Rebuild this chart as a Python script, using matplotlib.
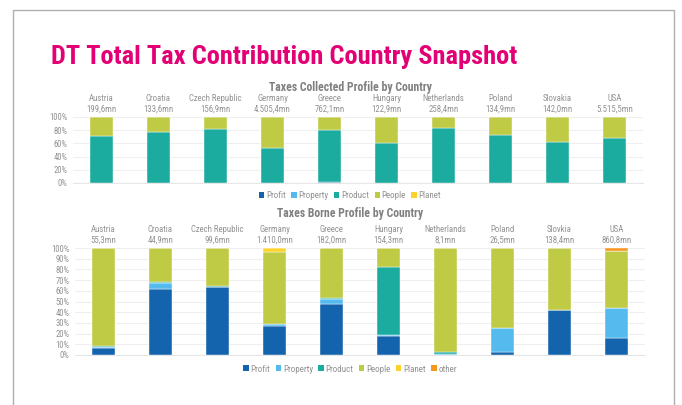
import matplotlib
matplotlib.use('Agg')
import matplotlib.pyplot as plt
from matplotlib import font_manager
from matplotlib.patches import Patch, Rectangle
import numpy as np

# data (shares in %)
countries_top = ['Austria', 'Croatia', 'Czech Republic', 'Germany', 'Greece',
                 'Hungary', 'Netherlands', 'Poland', 'Slovakia', 'USA']
totals_top = ['199,6mn', '133,6mn', '156,9mn', '4.505,4mn', '762,1mn',
              '122,9mn', '258,4mn', '134,9mn', '142,0mn', '5.515,5mn']
collected_profit = [0.0, 0.0, 0.0, 0.0, 1.0, 0.0, 0.0, 0.0, 0.0, 0.0]
collected_property = [0.5, 0.0, 0.0, 0.0, 0.0, 0.0, 0.0, 0.0, 0.0, 0.0]
collected_product = [71.2, 76.7, 81.5, 53.5, 78.7, 61.0, 82.7, 72.5, 62.6, 67.6]
collected_people = [28.3, 23.3, 18.5, 46.5, 20.3, 39.0, 17.3, 27.5, 37.4, 32.4]
collected_planet = [0.0, 0.0, 0.0, 0.0, 0.0, 0.0, 0.0, 0.0, 0.0, 0.0]

countries_bottom = ['Austria', 'Croatia', 'Czech Republic', 'Germany', 'Greece',
                    'Hungary', 'Netherlands', 'Poland', 'Slovkia', 'USA']
totals_bottom = ['55,3mn', '44,9mn', '99,6mn', '1.410,0mn', '182,0mn',
                 '154,3mn', '8,1mn', '26,5mn', '138,4mn', '860,8mn']
borne_profit = [6.5, 62.0, 64.0, 27.4, 48.0, 17.4, 0.3, 2.8, 42.0, 15.9]
borne_property = [1.0, 5.6, 0.0, 1.9, 4.6, 1.0, 1.0, 22.7, 0.0, 27.7]
borne_product = [0.6, 0.9, 0.6, 0.0, 1.0, 63.8, 1.2, 0.0, 0.3, 0.0]
borne_people = [91.9, 31.5, 35.4, 67.0, 46.4, 17.8, 97.5, 74.5, 57.7, 53.3]
borne_planet = [0.0, 0.0, 0.0, 3.7, 0.0, 0.0, 0.0, 0.0, 0.0, 0.0]
borne_other = [0.0, 0.0, 0.0, 0.0, 0.0, 0.0, 0.0, 0.0, 0.0, 3.1]

colors = {'Profit': '#1464ad', 'Property': '#55bbef', 'Product': '#1cab9f',
          'People': '#bfca45', 'Planet': '#fdd22a', 'other': '#f7951e'}
GRAY = '#929292'

# pick a narrow font if there is one (the original uses a condensed face)
installed = set(f.name for f in font_manager.fontManager.ttflist)
narrow = [f for f in ['Liberation Sans Narrow', 'Roboto Condensed', 'Open Sans Condensed'] if f in installed]
fam = narrow[:1] + ['Roboto', 'DejaVu Sans']
plt.rcParams['font.family'] = fam


def stacked(ax, series, names, labels, step):
	x = np.arange(len(labels))
	bottom = np.zeros(len(labels))
	for vals, name in zip(series, names):
		ax.bar(x, vals, 0.4, bottom=bottom, color=colors[name], edgecolor='white', linewidth=0.3, zorder=3)
		bottom += np.array(vals)
	ax.set_xlim(-0.5, len(labels) - 0.5)
	ax.set_ylim(0, 100)
	ax.set_yticks(np.arange(0, 101, step))
	ax.set_yticklabels(['%d%%' % v for v in np.arange(0, 101, step)])
	ax.yaxis.grid(True, color='#efefef', linewidth=0.8, zorder=0)
	ax.xaxis.tick_top()
	ax.set_xticks(x)
	ax.set_xticklabels(labels, linespacing=1.15)
	ax.tick_params(axis='x', length=0, pad=2.5, labelsize=6.3, labelcolor=GRAY)
	ax.tick_params(axis='y', length=0, pad=4, labelsize=6.2, labelcolor=GRAY)
	for s in ['top', 'left', 'right']:
		ax.spines[s].set_visible(False)
	ax.spines['bottom'].set_color('#e6e6e6')


fig = plt.figure(figsize=(6.82, 4.05), dpi=100)

# page frame
fig.patches.append(Rectangle((13 / 682, -0.1), 661 / 682, 1.1 - 10 / 405, transform=fig.transFigure,
                             fill=False, edgecolor='#b0b0b0', linewidth=1.0))

fig.text(51 / 682, 1 - 64 / 405, 'DT Total Tax Contribution Country Snapshot', color='#e20074',
         fontsize=19, fontweight='bold', va='baseline', ha='left')

ax1 = fig.add_axes([73 / 682, 1 - 183 / 405, 570 / 682, 66 / 405])
stacked(ax1, [collected_profit, collected_property, collected_product, collected_people, collected_planet],
        ['Profit', 'Property', 'Product', 'People', 'Planet'],
        [c + '\n' + t for c, t in zip(countries_top, totals_top)], 20)

ax2 = fig.add_axes([75 / 682, 1 - 355 / 405, 570 / 682, 107 / 405])
stacked(ax2, [borne_profit, borne_property, borne_product, borne_people, borne_planet, borne_other],
        ['Profit', 'Property', 'Product', 'People', 'Planet', 'other'],
        [c + '\n' + t for c, t in zip(countries_bottom, totals_bottom)], 10)

fig.text(350 / 682, 1 - 87 / 405, 'Taxes Collected Profile by Country', color='#808080',
         fontsize=8.5, fontweight='bold', ha='center', va='center')
fig.text(350 / 682, 1 - 213 / 405, 'Taxes Borne Profile by Country', color='#808080',
         fontsize=8.5, fontweight='bold', ha='center', va='center')

for names, y in [(['Profit', 'Property', 'Product', 'People', 'Planet'], 196),
                 (['Profit', 'Property', 'Product', 'People', 'Planet', 'other'], 369)]:
	handles = [Patch(facecolor=colors[n], label=n) for n in names]
	leg = fig.legend(handles=handles, loc='center', bbox_to_anchor=(350 / 682, 1 - y / 405), ncol=len(names),
	                 frameon=False, fontsize=6.5, handlelength=0.6, handleheight=0.6, handletextpad=0.2,
	                 columnspacing=0.6, labelcolor=GRAY)

fig.savefig('out.png', dpi=100)
